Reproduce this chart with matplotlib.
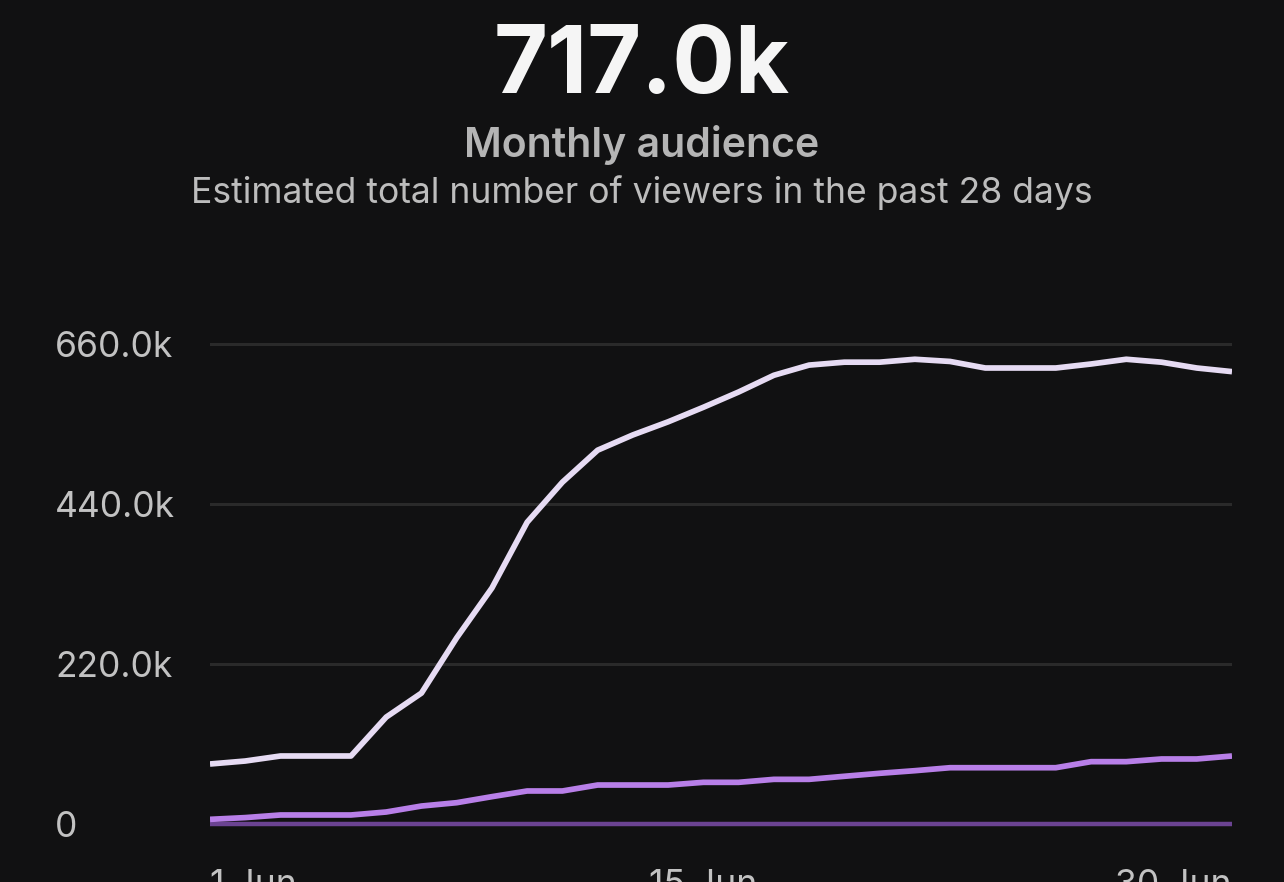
import matplotlib
matplotlib.use("Agg")
import matplotlib.pyplot as plt
import numpy as np

days = list(range(1, 31))
total_audience = [82.5, 86.6, 93.5, 93.5, 93.5, 147, 180, 256, 324.5, 415,
                  470, 514, 535, 553, 573, 594, 617, 631, 635, 635,
                  639, 636, 627, 627, 627, 632.5, 639, 635, 627, 622]
returning = [6.4, 8.8, 12.4, 12.4, 12.4, 16.5, 24.7, 29.3, 37.6, 45.4,
             45.4, 53.6, 53.6, 53.6, 57.3, 57.3, 61.4, 61.4, 65.6, 69.7,
             73.3, 77.4, 77.4, 77.4, 77.4, 85.7, 85.7, 89.4, 89.4, 93.5]
baseline_series = [0.0] * 30
y_ticks = [0, 220, 440, 660]
y_tick_labels = ["0", "220.0k", "440.0k", "660.0k"]
x_tick_days = [1, 15, 30]
x_tick_labels = ["1 Jun", "15 Jun", "30 Jun"]

plt.rcParams['font.family'] = ['Inter', 'DejaVu Sans']
BG = '#111112'
W, H = 1284, 882
fig = plt.figure(figsize=(W / 100, H / 100), dpi=100, facecolor=BG)

left, right = 210, 1232
top_px, bot_px = 338, 830
ax = fig.add_axes([left / W, 1 - bot_px / H, (right - left) / W, (bot_px - top_px) / H])
ax.set_facecolor(BG)

ax.set_xlim(1, 30)
ax.set_ylim(-8.25, 668.25)

for v in y_ticks[1:]:
    ax.axhline(v, color='#2a2a2a', lw=2.2, zorder=1)

ax.plot(days, baseline_series, color='#6b4392', lw=3.2, zorder=2, solid_capstyle='butt')
ax.plot(days, returning, color='#b87fe8', lw=4.1, zorder=3, solid_capstyle='butt')
ax.plot(days, total_audience, color='#e6dbf3', lw=4.1, zorder=4, solid_capstyle='butt')

for s in ax.spines.values():
    s.set_visible(False)

ax.set_yticks(y_ticks)
ax.set_yticklabels(y_tick_labels)
ax.tick_params(axis='y', length=0, pad=111.6, labelsize=25.5, labelcolor='#c2c2c2')
for lab in ax.get_yticklabels():
    lab.set_horizontalalignment('left')
    lab.set_fontweight('normal')

ax.set_xticks(x_tick_days)
ax.set_xticklabels(x_tick_labels)
ax.tick_params(axis='x', length=0, pad=28, labelsize=25.5, labelcolor='#c2c2c2')
xl = ax.get_xticklabels()
xl[0].set_horizontalalignment('left')
xl[1].set_horizontalalignment('center')
xl[2].set_horizontalalignment('right')
for lab in xl:
    lab.set_fontweight('normal')

cx = 642 / W
fig.text(cx, 1 - 93 / H, "717.0k", ha='center', va='baseline', fontsize=67,
         fontweight='bold', color='#f5f5f5')
fig.text(cx, 1 - 157 / H, "Monthly audience", ha='center', va='baseline', fontsize=29.5,
         fontweight='semibold', color='#b5b5b5')
fig.text(cx, 1 - 202.5 / H, "Estimated total number of viewers in the past 28 days",
         ha='center', va='baseline', fontsize=25.6, color='#bdbdbd')

fig.savefig("out.png", dpi=100, facecolor=BG)
